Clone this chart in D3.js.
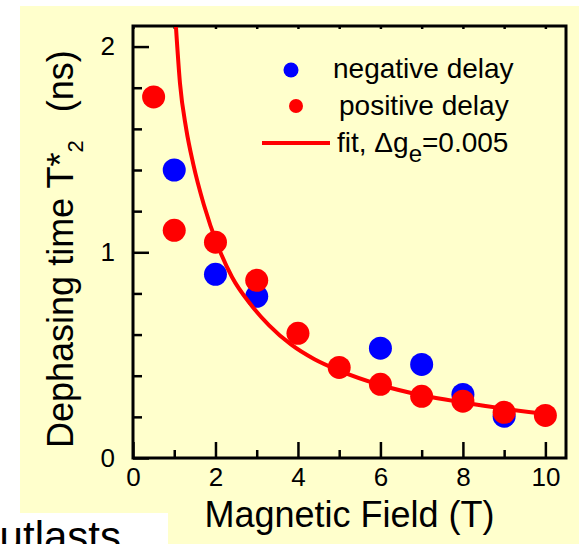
<!DOCTYPE html>
<html>
<head>
<meta charset="utf-8">
<script src="https://cdn.jsdelivr.net/npm/d3@7"></script>
<style>
  body { margin: 0; background: #fff; }
  text { font-family: "Liberation Sans", Arial, sans-serif; fill: #000; }
</style>
</head>
<body>
<svg id="chart" width="579" height="544"></svg>
<script>

// field values (T) and dephasing times (ns)
let negField = [1, 2, 3, 6, 7, 8, 9];
let negT2 = [1.40, 0.893, 0.786, 0.534, 0.455, 0.309, 0.203];

let posField = [0.5, 1, 2, 3, 4, 5, 6, 7, 8, 9, 10];
let posT2 = [1.755, 1.107, 1.049, 0.864, 0.606, 0.44, 0.358, 0.30, 0.276, 0.222, 0.207];

// fit curve, points
let fitField = [1.04, 1.14, 1.29, 1.46, 1.72, 2.06, 2.4, 2.86, 3.3, 3.83, 4.4, 5, 6, 7, 8, 9, 10, 10.25];
let fitT2 = [2.10, 1.82, 1.60, 1.43, 1.23, 1.03, 0.88, 0.745, 0.645, 0.552, 0.48, 0.425, 0.355, 0.305, 0.27, 0.24, 0.215, 0.21];

let xMajor = [0, 2, 4, 6, 8, 10];
let xMinor = [1, 3, 5, 7, 9];
let xTop = [0, 1, 2, 3, 4, 5, 6, 7, 8, 9, 10];
let yMajor = [0, 1, 2];
let yMinor = [0.2, 0.4, 0.6, 0.8, 1.2, 1.4, 1.6, 1.8];

let legendLabels = ["negative delay", "positive delay"];

var pLeft = 133, pRight = 566, pTop = 26, pBottom = 458;

var svg = d3.select('#chart');

// cream slide background
svg.append("rect")
    .attr("x", 20).attr("y", 6)
    .attr("width", 559).attr("height", 538)
    .attr("fill", "#FFFFCC");
// white text box of the slide below it
svg.append("rect")
    .attr("x", 0).attr("y", 513)
    .attr("width", 168).attr("height", 31)
    .attr("fill", "#FFFFFF");

var x = d3.scaleLinear().domain([0, 10.5]).range([pLeft, pRight]);
var y = d3.scaleLinear().domain([0, 2.1]).range([pBottom, pTop]);

function styleAxis(g) {
  g.select(".domain").remove();
  g.selectAll(".tick line").attr("stroke", "#000").attr("stroke-width", 2.5);
  g.selectAll(".tick text")
    .attr("font-family", "Liberation Sans, Arial, sans-serif")
    .attr("font-size", 26).attr("fill", "#000");
}

// left axis
svg.append("g").attr("transform", "translate(" + pLeft + ",0)")
    .call(d3.axisLeft(y).tickValues(yMajor).tickSize(-16).tickPadding(18).tickFormat(d3.format("d")))
    .call(styleAxis);
svg.append("g").attr("transform", "translate(" + pLeft + ",0)")
    .call(d3.axisLeft(y).tickValues(yMinor).tickSize(-9).tickFormat(""))
    .call(styleAxis);

// bottom axis
svg.append("g").attr("transform", "translate(0," + pBottom + ")")
    .call(d3.axisBottom(x).tickValues(xMajor).tickSize(-16).tickPadding(10).tickFormat(d3.format("d")))
    .call(styleAxis);
svg.append("g").attr("transform", "translate(0," + pBottom + ")")
    .call(d3.axisBottom(x).tickValues(xMinor).tickSize(-8).tickFormat(""))
    .call(styleAxis);

// top axis small ticks
svg.append("g").attr("transform", "translate(0," + pTop + ")")
    .call(d3.axisTop(x).tickValues(xTop).tickSize(-3).tickFormat(""))
    .call(styleAxis);

// frame
svg.append("rect")
    .attr("x", pLeft).attr("y", pTop)
    .attr("width", pRight - pLeft).attr("height", pBottom - pTop)
    .attr("fill", "none").attr("stroke", "#000").attr("stroke-width", 3);

svg.append("clipPath").attr("id", "plotclip")
  .append("rect")
    .attr("x", pLeft).attr("y", pTop + 1)
    .attr("width", pRight - pLeft).attr("height", pBottom - pTop);

var plot = svg.append("g").attr("clip-path", "url(#plotclip)");

// negative delay (blue)
plot.selectAll("circle.neg")
    .data(negField)
    .enter()
    .append("circle")
    .attr("class", "neg")
    .attr("cx", function(d) { return x(d); })
    .attr("cy", function(d, i) { return y(negT2[i]); })
    .attr("r", 11.5)
    .attr("fill", "#0000FF");

// fit line
var fitLine = d3.line()
    .x(function(d) { return x(d); })
    .y(function(d, i) { return y(fitT2[i]); })
    .curve(d3.curveMonotoneX);

plot.append("path")
    .datum(fitField)
    .attr("d", fitLine)
    .attr("fill", "none")
    .attr("stroke", "#FF0000")
    .attr("stroke-width", 4);

// positive delay (red)
plot.selectAll("circle.pos")
    .data(posField)
    .enter()
    .append("circle")
    .attr("class", "pos")
    .attr("cx", function(d) { return x(d); })
    .attr("cy", function(d, i) { return y(posT2[i]); })
    .attr("r", 11.5)
    .attr("fill", "#FF0000");

// legend
svg.append("circle").attr("cx", 291).attr("cy", 70).attr("r", 7.5).attr("fill", "#0000FF");
svg.append("circle").attr("cx", 296).attr("cy", 106).attr("r", 7).attr("fill", "#FF0000");
svg.append("line").attr("x1", 262).attr("x2", 330).attr("y1", 143).attr("y2", 143)
    .attr("stroke", "#FF0000").attr("stroke-width", 4);

svg.append("text").attr("x", 333).attr("y", 78).attr("font-size", 28).text(legendLabels[0]);
svg.append("text").attr("x", 339).attr("y", 115).attr("font-size", 28).text(legendLabels[1]);

var fitText = svg.append("text").attr("x", 337).attr("y", 152).attr("font-size", 28);
fitText.append("tspan").text("fit, \u0394g");
fitText.append("tspan").attr("font-size", 24).attr("dy", 10).text("e");
fitText.append("tspan").attr("dy", -10).text("=0.005");

// axis titles
svg.append("text")
    .attr("x", (pLeft + pRight) / 2).attr("y", 527)
    .attr("text-anchor", "middle")
    .attr("font-size", 36)
    .text("Magnetic Field (T)");

var yTitle = svg.append("text")
    .attr("transform", "translate(73,448) rotate(-90)")
    .attr("font-size", 36);
yTitle.append("tspan").text("Dephasing time T*");
yTitle.append("tspan").attr("font-size", 22).attr("dy", 10).text("2");
yTitle.append("tspan").attr("dy", -10).attr("dx", 28).text("(ns)");

// slide text running off the corner
svg.append("text")
    .attr("x", 121).attr("y", 551)
    .attr("text-anchor", "end")
    .attr("font-size", 42)
    .text("outlasts");

</script>
</body>
</html>
